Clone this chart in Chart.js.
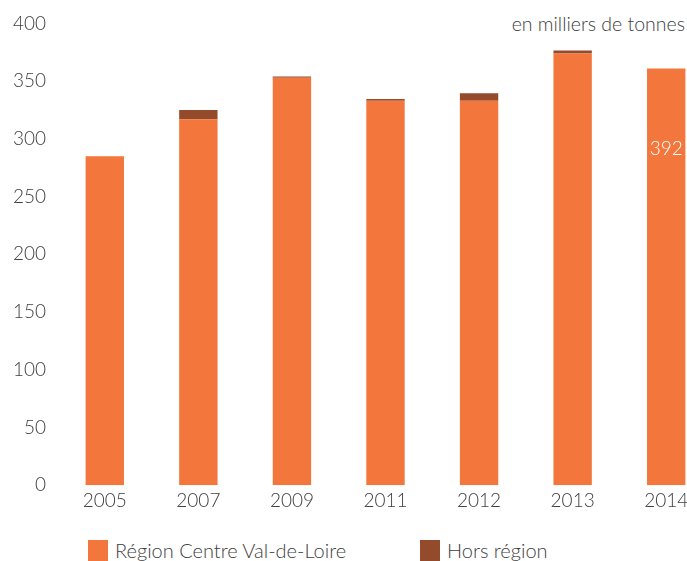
<!DOCTYPE html>
<html lang="fr">
<head>
<meta charset="UTF-8" />
<title>Tonnages</title>
<script src="https://cdn.jsdelivr.net/npm/chart.js"></script>
<style>
    html, body { margin: 0; padding: 0; background: #fff; overflow: hidden; }
    .wrap { position: relative; width: 714px; height: 561px; font-family: Lato, "Open Sans", sans-serif; font-weight: 300; color: #404040; }
    .chart-box { position: absolute; left: 0; top: 0; width: 714px; height: 516px; }
    .unit { position: absolute; right: 29px; top: 12px; font-size: 19.5px; }
    .legend { position: absolute; top: 540px; left: 0; height: 22px; font-size: 20px; }
    .legend span.item { position: absolute; top: 0; white-space: nowrap; line-height: 21px; }
    .legend i { display: inline-block; width: 20px; height: 21px; vertical-align: top; margin-right: 7px; }
</style>
</head>
<body>
<div class="wrap">
    <div class="unit">en milliers de tonnes</div>
    <div class="chart-box"><canvas id="chart"></canvas></div>
    <div class="legend" id="legend"></div>
</div>
<script>
const years = ["2005", "2007", "2009", "2011", "2012", "2013", "2014"];
const regionValues = [285, 317, 353, 333, 333, 374, 361];
const horsValues = [0, 8, 1, 1.5, 6.5, 2.5, 0];
const seriesNames = ["Région Centre Val-de-Loire", "Hors région"];
const seriesColors = ["#F3763C", "#934B2B"];
const yTicks = [0, 50, 100, 150, 200, 250, 300, 350, 400];
const barNotes = ["", "", "", "", "", "", "392"];

const txt = "#404040";
const fontFamily = 'Lato, "Open Sans", sans-serif';

// texte blanc dans la dernière barre
const notePlugin = {
    id: "notes",
    afterDatasetsDraw(chart) {
        const ctx = chart.ctx;
        const meta = chart.getDatasetMeta(0);
        ctx.save();
        ctx.fillStyle = "#ffffff";
        ctx.font = "300 19px " + fontFamily;
        ctx.textAlign = "center";
        ctx.textBaseline = "middle";
        barNotes.forEach((n, i) => {
            if (!n) return;
            const bar = meta.data[i];
            ctx.fillText(n, bar.x, chart.scales.y.getPixelForValue(291));
        });
        ctx.restore();
    }
};

new Chart(document.getElementById("chart"), {
    type: "bar",
    data: {
        labels: years,
        datasets: [
            { label: seriesNames[0], data: regionValues, backgroundColor: seriesColors[0] },
            { label: seriesNames[1], data: horsValues, backgroundColor: seriesColors[1] }
        ]
    },
    options: {
        responsive: true,
        maintainAspectRatio: false,
        animation: false,
        categoryPercentage: 1,
        barPercentage: 0.41,
        layout: { padding: { top: 20, right: 1, left: 0, bottom: 0 } },
        plugins: {
            legend: { display: false },
            tooltip: { enabled: false }
        },
        scales: {
            x: {
                stacked: true,
                grid: { display: false, drawTicks: false },
                border: { display: false },
                ticks: { color: txt, font: { family: fontFamily, size: 19, weight: "300" }, padding: 4, maxRotation: 0 }
            },
            y: {
                stacked: true,
                min: 0,
                max: 400,
                afterFit: (s) => { s.width = 58; },
                afterBuildTicks: (s) => { s.ticks = yTicks.map(v => ({ value: v })); },
                grid: { display: false, drawTicks: false },
                border: { display: false },
                ticks: { color: txt, font: { family: fontFamily, size: 19, weight: "300" }, padding: 12 }
            }
        }
    },
    plugins: [notePlugin]
});

// légende
const legend = document.getElementById("legend");
const legendLeft = [88, 420];
seriesNames.forEach((name, i) => {
    const s = document.createElement("span");
    s.className = "item";
    s.style.left = legendLeft[i] + "px";
    s.innerHTML = '<i style="background:' + seriesColors[i] + '"></i>' + name;
    legend.appendChild(s);
});
</script>
</body>
</html>
